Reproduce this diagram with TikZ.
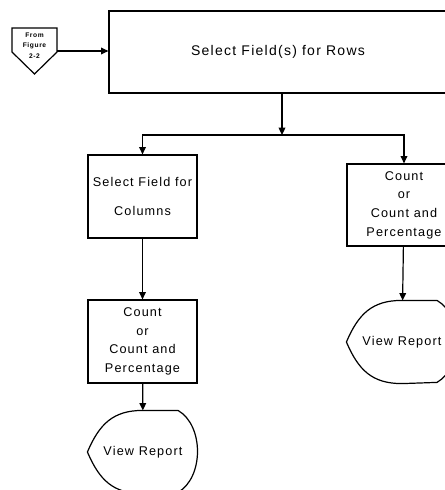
\documentclass[tikz,border=0pt]{standalone}
\usepackage{fontspec}
\setmainfont{Liberation Sans}[LetterSpace=9]
\usetikzlibrary{arrows.meta}

\begin{document}
\begin{tikzpicture}[x=0.75pt, y=-0.75pt, line width=0.9pt,
    arrow/.style={-{Triangle[length=5.5pt,width=5pt]}},
    box/.style={draw, inner sep=0pt, align=center, minimum width=81.75pt,
      minimum height=62.25pt, font=\fontsize{9.5}{14}\selectfont},
    screen/.style={inner sep=0pt, minimum width=82.5pt, minimum height=61.5pt,
      font=\fontsize{9.5}{14}\selectfont}]
	    \useasboundingbox (0,0) rectangle (445,490);
	    \clip (0,0) rectangle (445,490);

	    % off-page connector
	    \draw (12,28) -- (57,28) -- (57,52) -- (34.5,74) -- (12,52) -- cycle;
	    \node (from) at (34.5,45.5) [font=\fontsize{5}{8}\selectfont\bfseries, align=center]
	    {From\\Figure\\2-2};
	    \coordinate (fromout) at (57,51);

	    % boxes
	    \node (rows) at (278,52) [box, minimum width=253.5pt, minimum height=61.5pt,
	    font=\fontsize{10.5}{14}\selectfont] {Select Field(s) for Rows};
	    \node (columns) at (142.5,196.5) [box] {Select Field for\\[7.5pt]Columns};
	    \node (countL) at (142.5,341.5) [box] {Count\\or\\Count and\\Percentage};
	    \node (countR) at (404,205) [box, minimum width=85.5pt, minimum height=61.5pt]
	    {Count\\or\\Count and\\Percentage};
	    \node (viewL) at (143,452) [screen] {View Report};
	    \node (viewR) at (402,342) [screen] {View Report};

	    % display outlines
	    \foreach \n in {viewL,viewR}
	    \draw (\n.west) .. controls +(12,-28) and +(-30,0) .. (\n.north)
	    -- ++(35,0) .. controls +(26,15) and +(26,-15) .. ++(0,82)
	    -- (\n.south) .. controls +(-30,0) and +(12,28) .. (\n.west);

	    % connectors
	    \coordinate (split) at (282,135);
	    \draw[arrow] (fromout) -- (fromout -| rows.west);
	    \draw[arrow] (rows.south -| split) -- (split);
	    \draw[arrow] (split) -| (columns);
	    \draw[arrow] (split) -| (countR);
	    \draw[arrow] (columns) -- (countL);
	    \draw[arrow] (countL) -- (viewL);
	    \draw[arrow] (countR) -- (viewR);
	  \end{tikzpicture}
\end{document}
